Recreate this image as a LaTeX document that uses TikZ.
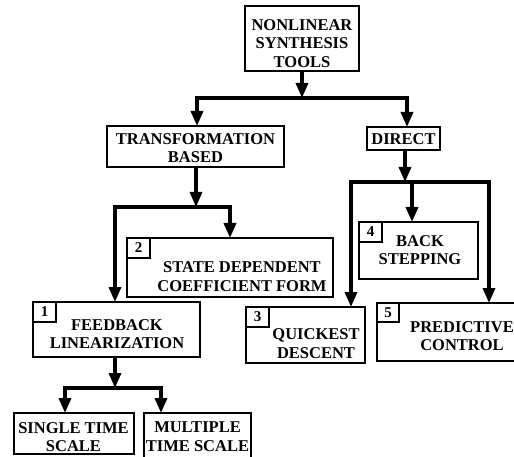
\documentclass[tikz,border=0pt]{standalone}
\usepackage{fontspec}
\setmainfont{Liberation Serif}
\usetikzlibrary{arrows.meta}
\begin{document}
\begin{tikzpicture}[x=1pt,y=-1pt]
\tikzset{ >={Triangle[width=12pt,length=15pt]}, inner sep=0pt, outer sep=0pt,
  box/.style={draw, line width=1.2pt, anchor=north west},
  num/.style={box, minimum width=23pt, minimum height=20pt, font=\fontsize{15}{15}\selectfont\bfseries},
  txt/.style={align=center, font=\fontsize{16.5}{18.7}\selectfont\bfseries},
  link/.style={line width=3.4pt},
  bar/.style={link, line cap=rect}, }

\useasboundingbox (0,0) rectangle (514,457);
%\draw [lightgray, dashed](0,0) grid[step=10] (514,457);

\node [box, minimum width=114pt, minimum height=65pt] (NST) at (245,6)   {};
\node [box, minimum width=177pt, minimum height=41pt] (TB)  at (107,126) {};
\node [box, minimum width=73pt,  minimum height=23pt] (DIR) at (367,127) {};
\node [box, minimum width=206pt, minimum height=59pt] (SDC) at (127,238) {};
\node [box, minimum width=167pt, minimum height=55pt] (FBL) at (33,302)  {};
\node [box, minimum width=119pt, minimum height=56pt] (QD)  at (246,307) {};
\node [box, minimum width=119pt, minimum height=57pt] (BS)  at (359,222) {};
\node [box, minimum width=160pt, minimum height=58pt] (PC)  at (377,303) {};
\node [box, minimum width=120pt, minimum height=41pt] (STS) at (14,413)  {};
\node [box, minimum width=107pt, minimum height=60pt] (MTS) at (144,413) {};

\node [num] (n1) at (FBL.north west) {1};
\node [num] (n2) at (SDC.north west) {2};
\node [num] (n3) at (QD.north west)  {3};
\node [num] (n4) at (BS.north west)  {4};
\node [num, minimum width=22pt, minimum height=19pt] (n5) at (PC.north west) {5};

\node [txt] (tNST) at (302,43.5)  {NONLINEAR\\SYNTHESIS\\TOOLS};
\node [txt] (tTB)  at (195.5,148) {TRANSFORMATION\\BASED};
\node [txt] (tDIR) at (403.5,139) {DIRECT};
\node [txt] (tSDC) at (242,276.5) {STATE DEPENDENT\\COEFFICIENT FORM};
\node [txt] (tFBL) at (117,334)   {FEEDBACK\\LINEARIZATION};
\node [txt] (tQD)  at (316,343.5) {QUICKEST\\DESCENT};
\node [txt] (tBS)  at (420,250)   {BACK\\STEPPING};
\node [txt] (tPC)  at (462,336)   {PREDICTIVE\\CONTROL};
\node [txt] (tSTS) at (73.5,437)  {SINGLE TIME\\SCALE};
\node [txt] (tMTS) at (197.5,437) {MULTIPLE\\TIME SCALE};

\coordinate (a)  at (302,98);
\coordinate (aL) at (197,98);
\coordinate (aR) at (407,98);
\coordinate (b)  at (196,207);
\coordinate (bL) at (115,207);
\coordinate (bR) at (230,207);
\coordinate (c)  at (405,182);
\coordinate (cL) at (351,182);
\coordinate (cM) at (412,182);
\coordinate (cR) at (489,182);
\coordinate (d)  at (115,388);
\coordinate (dL) at (65,388);
\coordinate (dR) at (161,388);

\draw [->, link] (NST.south -| a) -- (a);
\draw [bar] (aL) -- (aR);
\draw [->, link] (aL) -- (TB.north -| aL);
\draw [->, link] (aR) -- (DIR.north -| aR);

\draw [->, link] (TB.south -| b) -- (b);
\draw [bar] (bL) -- (bR);
\draw [->, link] (bL) -- (FBL.north -| bL);
\draw [->, link] (bR) -- (SDC.north -| bR);

\draw [->, link] (DIR.south -| c) -- (c);
\draw [bar] (cL) -- (cR);
\draw [->, link] (cM) -- (BS.north -| cM);
\draw [->, link] (cL) -- (QD.north -| cL);
\draw [->, link] (cR) -- (PC.north -| cR);

\draw [->, link] (FBL.south -| d) -- (d);
\draw [bar] (dL) -- (dR);
\draw [->, link] (dL) -- (STS.north -| dL);
\draw [->, link] (dR) -- (MTS.north -| dR);

\end{tikzpicture}
\end{document}
